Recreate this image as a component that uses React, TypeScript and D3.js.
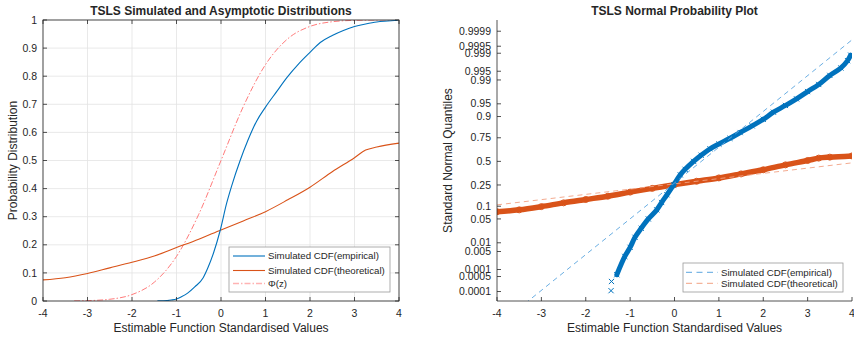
import React from 'react';
import * as d3 from 'd3';

// simulated estimator, empirical CDF (value, probability)
const empX = [-1.43, -1.42, -1.3, -1.12, -1.0, -0.89, -0.75, -0.59, -0.4, -0.29, -0.17, -0.02, 0.13, 0.24, 0.43, 0.6, 0.8, 1.0, 1.25, 1.48, 1.75, 2.0, 2.23, 2.5, 2.75, 3.0, 3.25, 3.5, 3.75, 3.9, 3.97];
const empP = [0.00011, 0.0003, 0.0006, 0.0033, 0.007, 0.015, 0.028, 0.05, 0.083, 0.12, 0.17, 0.25, 0.35, 0.41, 0.5, 0.57, 0.64, 0.69, 0.745, 0.795, 0.845, 0.885, 0.92, 0.945, 0.963, 0.977, 0.986, 0.993, 0.9962, 0.998, 0.9988];

// simulated CDF, theoretical
const theoX = [-4, -3.5, -3.0, -2.5, -2.0, -1.5, -1.0, -0.5, 0, 0.5, 1.0, 1.5, 2.0, 2.5, 3.0, 3.25, 3.5, 4.0];
const theoP = [0.075, 0.083, 0.098, 0.118, 0.138, 0.16, 0.19, 0.22, 0.253, 0.285, 0.318, 0.36, 0.405, 0.46, 0.51, 0.537, 0.548, 0.562];

// Phi(z)
const phiX = [-3.3, -3, -2.5, -2, -1.5, -1, -0.5, 0, 0.5, 1, 1.5, 2, 2.5, 3, 3.5, 4];
const phiP = [0.0005, 0.0013, 0.0062, 0.0228, 0.0668, 0.1587, 0.3085, 0.5, 0.6915, 0.8413, 0.9332, 0.9772, 0.9938, 0.9987, 0.9998, 1.0];

// normplot reference lines: x at the 25th / 75th percentiles
const empQuartiles = [-0.055, 1.264];
const theoQuartiles = [-0.21, 8.78];

const xTicks = [-4, -3, -2, -1, 0, 1, 2, 3, 4];
const cdfTicks = [0, 0.1, 0.2, 0.3, 0.4, 0.5, 0.6, 0.7, 0.8, 0.9, 1];
const probTicks = [0.0001, 0.0005, 0.001, 0.005, 0.01, 0.05, 0.1, 0.25, 0.5, 0.75, 0.9, 0.95, 0.99, 0.995, 0.999, 0.9995, 0.9999];

const FONT = '"Liberation Sans", Arial, Helvetica, sans-serif';
const AX = '#262626';
const BLUE = '#0072BD';
const ORANGE = '#D95319';

// inverse normal CDF (Acklam)
function probit(p: number) {
  const a = [-39.69683028665376, 220.9460984245205, -275.9285104469687, 138.357751867269, -30.66479806614716, 2.506628277459239];
  const b = [-54.47609879822406, 161.5858368580409, -155.6989798598866, 66.80131188771972, -13.28068155288572];
  const c = [-0.007784894002430293, -0.3223964580411365, -2.400758277161838, -2.549732539343734, 4.374664141464968, 2.938163982698783];
  const d = [0.007784695709041462, 0.3224671290700398, 2.445134137142996, 3.754408661907416];
  const lo = 0.02425;
  if (p < lo) {
    const q = Math.sqrt(-2 * Math.log(p));
    return (((((c[0] * q + c[1]) * q + c[2]) * q + c[3]) * q + c[4]) * q + c[5]) / ((((d[0] * q + d[1]) * q + d[2]) * q + d[3]) * q + 1);
  }
  if (p <= 1 - lo) {
    const q = p - 0.5, r = q * q;
    return (((((a[0] * r + a[1]) * r + a[2]) * r + a[3]) * r + a[4]) * r + a[5]) * q / (((((b[0] * r + b[1]) * r + b[2]) * r + b[3]) * r + b[4]) * r + 1);
  }
  const q = Math.sqrt(-2 * Math.log(1 - p));
  return -(((((c[0] * q + c[1]) * q + c[2]) * q + c[3]) * q + c[4]) * q + c[5]) / ((((d[0] * q + d[1]) * q + d[2]) * q + d[3]) * q + 1);
}

const zip = (xs: number[], ps: number[]) => xs.map((x, i) => [x, ps[i]] as [number, number]);

export default function App() {
  const top = 20, bottom = 301;
  const xL = d3.scaleLinear().domain([-4, 4]).range([43, 399]);
  const yL = d3.scaleLinear().domain([0, 1]).range([bottom, top]);
  const xR = d3.scaleLinear().domain([-4, 4]).range([497, 852]);
  const zR = d3.scaleLinear().domain([-3.99, 4.04]).range([bottom, top]);
  const yR = (p: number) => zR(probit(p));

  const lineL = d3.line<[number, number]>().x(d => xL(d[0])).y(d => yL(d[1])).curve(d3.curveMonotoneX);
  const lineR = d3.line<[number, number]>().x(d => xR(d[0])).y(d => yR(d[1])).curve(d3.curveCatmullRom);

  const emp = zip(empX, empP);
  const theo = zip(theoX, theoP);
  const phi = zip(phiX, phiP);

  const refLine = (q: number[]) => {
    const z0 = probit(0.25), z1 = probit(0.75);
    const slope = (z1 - z0) / (q[1] - q[0]);
    const zAt = (v: number) => z0 + slope * (v - q[0]);
    return `M${xR(-4)},${zR(zAt(-4))}L${xR(4)},${zR(zAt(4))}`;
  };

  const tk = 4;
  const txt = { fontFamily: FONT, fill: AX } as const;

  return (
    <svg width={854} height={339} style={{ position: 'absolute', left: 0, top: 0, background: '#fff' }}>
      <defs>
        <clipPath id="clipL"><rect x={43} y={top} width={356} height={bottom - top} /></clipPath>
        <clipPath id="clipR"><rect x={497} y={top} width={355} height={bottom - top} /></clipPath>
      </defs>

      {/* ---------- left plot ---------- */}
      <g>
        {xTicks.map(t => (
          <line key={'gx' + t} x1={xL(t)} x2={xL(t)} y1={top} y2={bottom} stroke="#e3e3e3" strokeWidth={0.8} />
        ))}
        {cdfTicks.map(t => (
          <line key={'gy' + t} x1={43} x2={399} y1={yL(t)} y2={yL(t)} stroke="#e3e3e3" strokeWidth={0.8} />
        ))}
        <g clipPath="url(#clipL)" fill="none">
          <path d={lineL(phi) || ''} stroke="#ff7b7b" strokeWidth={1} strokeDasharray="6,2,1.5,2" />
          <path d={lineL(theo) || ''} stroke={ORANGE} strokeWidth={1.1} />
          <path d={lineL(emp) || ''} stroke={BLUE} strokeWidth={1.1} />
        </g>
        <rect x={43} y={top} width={356} height={bottom - top} fill="none" stroke={AX} strokeWidth={0.8} />
        {xTicks.map(t => (
          <g key={'tx' + t}>
            <line x1={xL(t)} x2={xL(t)} y1={bottom} y2={bottom - tk} stroke={AX} strokeWidth={0.8} />
            <line x1={xL(t)} x2={xL(t)} y1={top} y2={top + tk} stroke={AX} strokeWidth={0.8} />
            <text x={xL(t)} y={317} textAnchor="middle" fontSize={10.5} {...txt}>{t}</text>
          </g>
        ))}
        {cdfTicks.map(t => (
          <g key={'ty' + t}>
            <line x1={43} x2={43 + tk} y1={yL(t)} y2={yL(t)} stroke={AX} strokeWidth={0.8} />
            <line x1={399} x2={399 - tk} y1={yL(t)} y2={yL(t)} stroke={AX} strokeWidth={0.8} />
            <text x={37} y={yL(t)} dy="0.35em" textAnchor="end" fontSize={10.5} {...txt}>{String(t)}</text>
          </g>
        ))}
        <text x={221} y={15} textAnchor="middle" fontSize={12} fontWeight="bold" {...txt}>TSLS Simulated and Asymptotic Distributions</text>
        <text x={221} y={332} textAnchor="middle" fontSize={12} {...txt}>Estimable Function Standardised Values</text>
        <text transform={`translate(17,${(top + bottom) / 2}) rotate(-90)`} textAnchor="middle" fontSize={12} {...txt}>Probability Distribution</text>

        <rect x={229} y={247} width={161} height={45} fill="#fff" stroke="#9a9a9a" strokeWidth={0.8} />
        <line x1={233} x2={265} y1={256} y2={256} stroke={BLUE} strokeWidth={1.1} />
        <text x={268} y={256} dy="0.35em" fontSize={9.7} {...txt}>Simulated CDF(empirical)</text>
        <line x1={233} x2={265} y1={270.5} y2={270.5} stroke={ORANGE} strokeWidth={1.1} />
        <text x={268} y={270.5} dy="0.35em" fontSize={9.7} {...txt}>Simulated CDF(theoretical)</text>
        <line x1={233} x2={265} y1={283.5} y2={283.5} stroke="#ffb3b3" strokeWidth={1.5} strokeDasharray="6,2,1.5,2" />
        <text x={268} y={283.5} dy="0.35em" fontSize={9.7} {...txt}>Φ(z)</text>
      </g>

      {/* ---------- right plot ---------- */}
      <g>
        <g clipPath="url(#clipR)" fill="none">
          <path d={lineR(theo) || ''} stroke={ORANGE} strokeWidth={5.5} strokeLinecap="round" strokeLinejoin="round" />
          {theo.map((d, i) => (
            <circle key={'c' + i} cx={xR(d[0])} cy={yR(d[1])} r={3} stroke={ORANGE} strokeWidth={1} fill="none" />
          ))}
          <path d={lineR(emp.slice(2)) || ''} stroke={BLUE} strokeWidth={5} strokeLinecap="round" strokeLinejoin="round" />
          {emp.map((d, i) => {
            const cx = xR(d[0]), cy = yR(d[1]), s = 2.6;
            return (
              <path key={'x' + i} d={`M${cx - s},${cy - s}L${cx + s},${cy + s}M${cx - s},${cy + s}L${cx + s},${cy - s}`} stroke={BLUE} strokeWidth={1} />
            );
          })}
          <path d={refLine(empQuartiles)} stroke="#5aa5df" strokeWidth={0.9} strokeDasharray="5,4" />
          <path d={refLine(theoQuartiles)} stroke="#f2a283" strokeWidth={0.9} strokeDasharray="5,4" />
        </g>
        <line x1={497} x2={497} y1={top} y2={bottom} stroke={AX} strokeWidth={0.8} />
        <line x1={497} x2={852} y1={bottom} y2={bottom} stroke={AX} strokeWidth={0.8} />
        {xTicks.map(t => (
          <g key={'rx' + t}>
            <line x1={xR(t)} x2={xR(t)} y1={bottom} y2={bottom - tk} stroke={AX} strokeWidth={0.8} />
            <text x={xR(t)} y={317} textAnchor="middle" fontSize={10.5} {...txt}>{t}</text>
          </g>
        ))}
        {probTicks.map(t => (
          <g key={'ry' + t}>
            <line x1={497} x2={497 + tk} y1={yR(t)} y2={yR(t)} stroke={AX} strokeWidth={0.8} />
            <text x={491} y={yR(t)} dy="0.35em" textAnchor="end" fontSize={10.5} {...txt}>{String(t)}</text>
          </g>
        ))}
        <text x={674.5} y={15} textAnchor="middle" fontSize={12} fontWeight="bold" {...txt}>TSLS Normal Probability Plot</text>
        <text x={674.5} y={332} textAnchor="middle" fontSize={12} {...txt}>Estimable Function Standardised Values</text>
        <text transform={`translate(452,${(top + bottom) / 2}) rotate(-90)`} textAnchor="middle" fontSize={12} {...txt}>Standard Normal Quantiles</text>

        <rect x={683} y={263} width={160} height={29} fill="#fff" stroke="#9a9a9a" strokeWidth={0.8} />
        <line x1={686} x2={718} y1={272.3} y2={272.3} stroke="#5aa5df" strokeWidth={1} strokeDasharray="6,4.5" />
        <text x={721} y={272.3} dy="0.35em" fontSize={9.7} {...txt}>Simulated CDF(empirical)</text>
        <line x1={686} x2={718} y1={283.3} y2={283.3} stroke="#f2a283" strokeWidth={1} strokeDasharray="6,4.5" />
        <text x={721} y={283.3} dy="0.35em" fontSize={9.7} {...txt}>Simulated CDF(theoretical)</text>
      </g>
    </svg>
  );
}
